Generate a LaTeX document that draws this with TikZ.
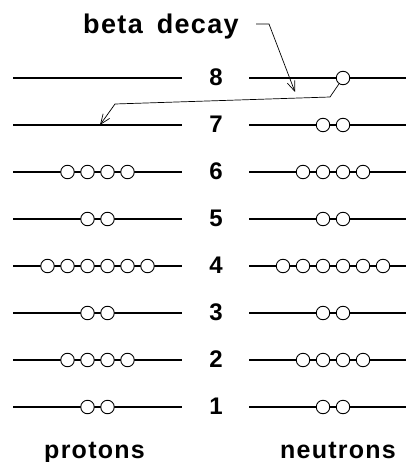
\documentclass[tikz,border=0pt]{standalone}
\usepackage{fontspec}
\setmainfont{Liberation Sans}
\newfontfamily\labfont{Liberation Sans Bold}[LetterSpace=5]
\newfontfamily\numfont{Liberation Sans Bold}
\usetikzlibrary{arrows.meta}
\begin{document}
\begin{tikzpicture}[x=1pt,y=-1pt,
  levelline/.style={line width=1.2pt},
  orb/.style={circle,draw,line width=0.9pt,fill=white,minimum size=13.5pt,inner sep=0pt},
  num/.style={font=\numfont\fontsize{24}{24}\selectfont,inner sep=0pt,anchor=center},
  lab/.style={font=\labfont\fontsize{25}{25}\selectfont,inner sep=0pt,anchor=base},
  conn/.style={line width=0.7pt,-{Straight Barb[length=10pt,width=8pt,line width=0.7pt]}}]
\useasboundingbox (0,0) rectangle (406,462);
% levels
\foreach \n in {1,...,8}{
  \pgfmathsetmacro{\yy}{407-(\n-1)*47}
  \coordinate (la\n) at (13,\yy);
  \coordinate (lb\n) at (182,\yy);
  \coordinate (ra\n) at (249,\yy);
  \coordinate (rb\n) at (406,\yy);
  \draw[levelline] (la\n) -- (lb\n);
  \draw[levelline] (ra\n) -- (rb\n);
  \node[num] (d\n) at (216,\yy-1) {\n};
}
% protons
\foreach \n/\m in {1/2,2/4,3/2,4/6,5/2,6/4}{
  \pgfmathsetmacro{\yy}{407-(\n-1)*47}
  \foreach \k in {1,...,\m}{
    \node[orb] (p\n-\k) at ({97.5+20*(\k-(\m+1)/2)},\yy) {};
  }
}
% neutrons
\foreach \n/\m in {1/2,2/4,3/2,4/6,5/2,6/4,7/2}{
  \pgfmathsetmacro{\yy}{407-(\n-1)*47}
  \foreach \k in {1,...,\m}{
    \node[orb] (q\n-\k) at ({333+20*(\k-(\m+1)/2)},\yy) {};
  }
}
\node[orb] (q8-1) at (343,78) {};
% beta decay label and leaders
\node[lab,font=\labfont\fontsize{27}{27}\selectfont] (beta) at (161,34) {beta\hspace{14pt}decay};
\coordinate (b1) at (256,24);
\coordinate (b2) at (269,24);
\coordinate (b3) at (295,92);
\draw[conn] (b1) -- (b2) -- (b3);
\coordinate (c1) at (330,97);
\coordinate (c2) at (115,104);
\coordinate (c3) at (100,125);
\draw[conn] (q8-1) -- (c1) -- (c2) -- (c3);
% bottom labels
\node[lab] (prot) at (94.5,458) {protons};
\node[lab] (neut) at (338,458) {neutrons};
\end{tikzpicture}
\end{document}
